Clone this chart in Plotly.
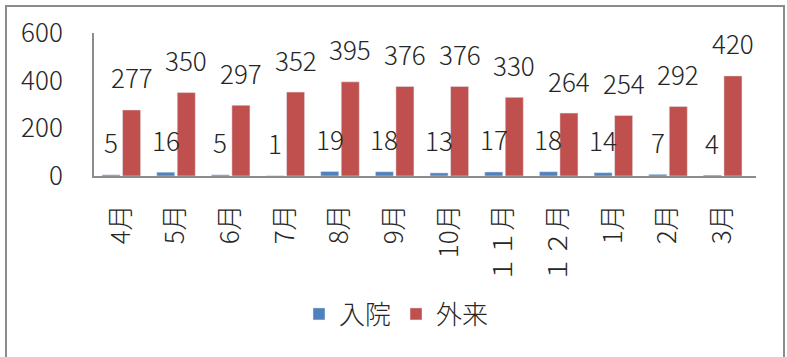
import plotly.graph_objects as go

categories = ["4月", "5月", "6月", "7月", "8月", "9月", "10月", "１１月", "１２月", "1月", "2月", "3月"]
inpatient = [5, 16, 5, 1, 19, 18, 13, 17, 18, 14, 7, 4]
outpatient = [277, 350, 297, 352, 395, 376, 376, 330, 264, 254, 292, 420]
y_ticks = [0, 200, 400, 600]

W, H = 787, 357
ML, MR, MT, MB = 94, 31, 33, 181
FONT = "Noto Sans CJK JP"
WT = 300
TXT = "#262626"
AX = "#8c8c8c"
BLUE = "#4F81BD"
RED = "#C0504D"

fig = go.Figure()
fig.add_trace(go.Bar(name="入院", x=categories, y=inpatient, marker=dict(color=BLUE)))
fig.add_trace(go.Bar(name="外来", x=categories, y=outpatient, marker=dict(color=RED)))

ann = []
for c, v in zip(categories, inpatient):
    ann.append(dict(x=c, y=v, xref="x", yref="y", text=str(v), showarrow=False,
                    xshift=-10.3, yshift=33, yanchor="middle", xanchor="center",
                    font=dict(family=FONT, size=26, color=TXT, weight=WT)))
for c, v in zip(categories, outpatient):
    ann.append(dict(x=c, y=v, xref="x", yref="y", text=str(v), showarrow=False,
                    xshift=10.3, yshift=33, yanchor="middle", xanchor="center",
                    font=dict(family=FONT, size=26, color=TXT, weight=WT)))

pw = W - ML - MR
ph = H - MT - MB
def px(xp):
    return (xp - ML) / pw
def py(yp):
    return (H - MB - yp) / ph

fig.update_layout(
    width=W, height=H,
    margin=dict(l=ML, r=MR, t=MT, b=MB, pad=0),
    paper_bgcolor="white", plot_bgcolor="white",
    barmode="group", bargap=0.25, bargroupgap=0.12,
    font=dict(family=FONT, size=26, color=TXT, weight=WT),
    showlegend=True,
    legend=dict(orientation="h", x=px(299), xanchor="left", y=py(314), yanchor="middle",
                font=dict(family=FONT, size=26, color=TXT, weight=WT), bgcolor="rgba(0,0,0,0)"),
    annotations=ann,
    shapes=[dict(type="rect", xref="paper", yref="paper",
                 x0=px(6), x1=px(784), y0=py(6), y1=py(400),
                 line=dict(color=AX, width=2), fillcolor="rgba(0,0,0,0)", layer="above")],
    xaxis=dict(showline=True, linecolor=AX, linewidth=2, showgrid=False, ticks="",
               tickangle=-90, ticklabelstandoff=16,
               tickfont=dict(family=FONT, size=26, color=TXT, weight=WT)),
    yaxis=dict(showline=True, linecolor=AX, linewidth=2, showgrid=False, zeroline=False,
               range=[0, 600], tickvals=y_ticks, ticktext=[str(t) for t in y_ticks], ticks="",
               ticklabelstandoff=24, tickfont=dict(family=FONT, size=26, color=TXT, weight=WT)),
)

fig.write_html("out.html")
